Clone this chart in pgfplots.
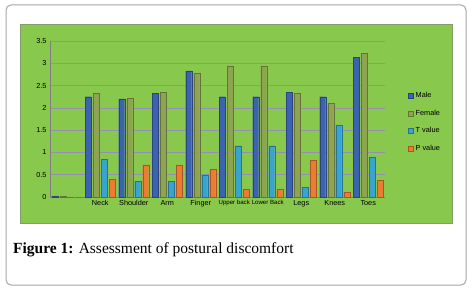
\documentclass[border=0pt]{standalone}
\usepackage{pgfplots}
\pgfplotsset{compat=1.18}
\usepackage{fontspec}
\setmainfont{Liberation Serif}
\newfontfamily\chartfont{Liberation Sans}
\definecolor{bg}{HTML}{88C84C}
\definecolor{gridc}{HTML}{9490B0}
\definecolor{male}{HTML}{3C62B0}
\definecolor{female}{HTML}{8EA452}
\definecolor{tval}{HTML}{3AA4D0}
\definecolor{pval}{HTML}{EC7C34}
\newcommand{\sm}[1]{{\fontsize{6.1}{7}\selectfont #1}}
\begin{document}
\begin{tikzpicture}[x=1pt,y=1pt]
\fill[white] (0,0) rectangle (472,290);
\draw[gray!70, line width=1pt, rounded corners=5pt] (6,5) rectangle (466,285);
\fill[bg] (20,67) rectangle (452,266);
\draw[gray!60!bg, line width=0.8pt] (20,67) rectangle (452,266);
\begin{axis}[
  at={(50pt,93pt)}, anchor=south west,
  scale only axis, width=335pt, height=156pt,
  xmin=-0.5, xmax=9.5, ymin=0, ymax=3.5,
  ybar, bar width=6pt,
  axis line style={gray},
  axis x line*=bottom, axis y line*=left,
  xtick={0,...,9},
  xticklabels={,Neck,Shoulder,Arm,Finger,\sm{Upper back},\sm{Lower Back},Legs,Knees,Toes},
  x tick label style={font=\chartfont\fontsize{7.3}{8}\selectfont, inner xsep=0pt},
  ytick={0,0.5,...,3.5},
  y tick label style={font=\chartfont\fontsize{7.3}{8}\selectfont},
  /pgf/number format/assume math mode=true,
  major tick length=0pt,
  ymajorgrids, grid style={gridc, line width=0.5pt},
  legend style={at={(1.06,0.48)}, anchor=west, draw=none, fill=none,
    font=\chartfont\fontsize{7.3}{8}\selectfont, row sep=7pt},
  legend cell align=left,
  legend image code/.code={\fill[#1] (0pt,-2.5pt) rectangle (5pt,2.5pt);},
]
\addplot[fill=male, draw=male!70!black] coordinates {(0,0.02) (1,2.25) (2,2.2) (3,2.33) (4,2.83) (5,2.25) (6,2.25) (7,2.35) (8,2.25) (9,3.13)};
\addplot[fill=female, draw=female!70!black] coordinates {(0,0.02) (1,2.32) (2,2.22) (3,2.35) (4,2.77) (5,2.94) (6,2.94) (7,2.33) (8,2.1) (9,3.22)};
\addplot[fill=tval, draw=tval!70!black] coordinates {(0,0) (1,0.85) (2,0.35) (3,0.35) (4,0.5) (5,1.15) (6,1.15) (7,0.22) (8,1.62) (9,0.9)};
\addplot[fill=pval, draw=pval!70!black] coordinates {(0,0) (1,0.4) (2,0.72) (3,0.72) (4,0.62) (5,0.17) (6,0.17) (7,0.83) (8,0.1) (9,0.37)};
\legend{Male,Female,T value,P value}
\end{axis}
\node[anchor=base west, inner sep=0pt, font=\fontsize{15.5}{17}\selectfont] at (13,37) {\textbf{Figure 1:} Assessment of postural discomfort};
\end{tikzpicture}
\end{document}
